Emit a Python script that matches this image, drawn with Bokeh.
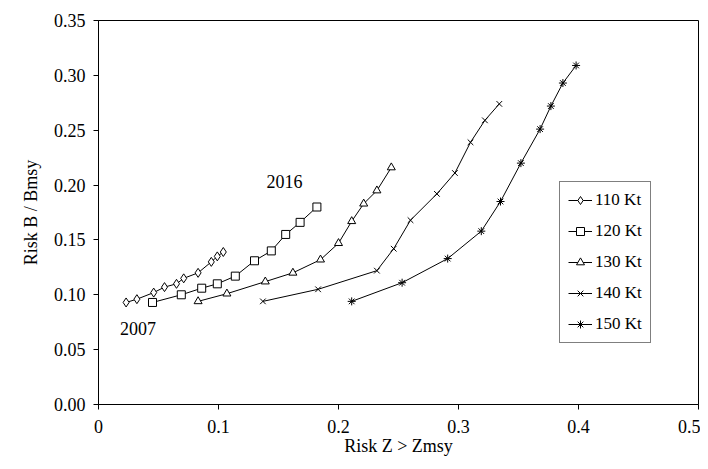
from bokeh.plotting import figure
from bokeh.models import Legend, LegendItem, FixedTicker, Range1d, Label
from bokeh.embed import file_html
from bokeh.resources import INLINE

names = ["110 Kt", "120 Kt", "130 Kt", "140 Kt", "150 Kt"]
xs = [
    [0.023, 0.032, 0.046, 0.055, 0.065, 0.071, 0.083, 0.094, 0.099, 0.104],
    [0.045, 0.069, 0.086, 0.099, 0.114, 0.130, 0.144, 0.156, 0.168, 0.182],
    [0.083, 0.107, 0.139, 0.162, 0.185, 0.200, 0.211, 0.221, 0.232, 0.244],
    [0.137, 0.183, 0.232, 0.246, 0.260, 0.282, 0.297, 0.310, 0.322, 0.334],
    [0.211, 0.253, 0.291, 0.319, 0.335, 0.352, 0.368, 0.377, 0.387, 0.398],
]
ys = [
    [0.093, 0.096, 0.102, 0.107, 0.110, 0.115, 0.120, 0.130, 0.135, 0.139],
    [0.093, 0.100, 0.106, 0.110, 0.117, 0.131, 0.140, 0.155, 0.166, 0.180],
    [0.094, 0.101, 0.112, 0.120, 0.132, 0.147, 0.167, 0.183, 0.195, 0.216],
    [0.094, 0.105, 0.122, 0.142, 0.168, 0.192, 0.211, 0.239, 0.259, 0.274],
    [0.094, 0.111, 0.133, 0.158, 0.185, 0.220, 0.251, 0.272, 0.293, 0.309],
]
markers = ["diamond", "square", "triangle", "x", "asterisk"]
xticks = [0, 0.1, 0.2, 0.3, 0.4, 0.5]
yticks = [0, 0.05, 0.1, 0.15, 0.2, 0.25, 0.3, 0.35]

F = "Liberation Serif"
p = figure(frame_width=600, frame_height=384, output_backend="svg", toolbar_location=None,
           x_range=Range1d(0, 0.5), y_range=Range1d(0, 0.35),
           min_border_left=98, min_border_top=20, min_border_right=2, min_border_bottom=56)
p.outline_line_color = "black"
p.outline_line_width = 1
p.xgrid.visible = False
p.ygrid.visible = False
for ax in (p.xaxis[0], p.yaxis[0]):
    ax.major_tick_in = 0
    ax.major_tick_out = 5
    ax.minor_tick_line_color = None
    ax.major_label_text_font = F
    ax.major_label_text_font_size = "18px"
    ax.major_label_text_color = "black"
    ax.axis_label_text_font = F
    ax.axis_label_text_font_size = "18px"
    ax.axis_label_text_font_style = "normal"
    ax.axis_label_text_color = "black"
    ax.axis_line_color = "black"
    ax.major_tick_line_color = "black"
p.xaxis.ticker = FixedTicker(ticks=xticks)
p.yaxis.ticker = FixedTicker(ticks=yticks)
p.xaxis.major_label_overrides = {0: "0", 0.1: "0.1", 0.2: "0.2", 0.3: "0.3", 0.4: "0.4", 0.5: "0.5"}
p.yaxis.major_label_overrides = {t: f"{t:.2f}" for t in yticks}
p.xaxis.major_label_standoff = 10
p.yaxis.major_label_standoff = 8
p.xaxis.axis_label = "Risk Z > Zmsy"
p.yaxis.axis_label = "Risk B / Bmsy"
p.xaxis.axis_label_standoff = 0
p.yaxis.axis_label_standoff = 10

items = []
for n, x, y, m in zip(names, xs, ys, markers):
    l = p.line(x, y, line_color="black", line_width=1)
    s = p.scatter(x, y, marker=m, size=8 if m != "diamond" else 9, line_color="black", fill_color="white", line_width=1)
    items.append(LegendItem(label=n, renderers=[l, s]))

p.add_layout(Label(x=0.018, y=0.063, text="2007", text_font=F, text_font_size="18px", text_color="black"))
p.add_layout(Label(x=0.140, y=0.197, text="2016", text_font=F, text_font_size="18px", text_color="black"))

leg = Legend(items=items, location=(461, 61), label_text_font=F, label_text_font_size="17px",
             label_text_color="black",
             border_line_color="black", border_line_width=1.5, spacing=11, padding=8,
             glyph_width=24, label_standoff=3, background_fill_alpha=1, margin=0)
p.add_layout(leg, "center")

open("out.html", "w").write(file_html(p, INLINE))
